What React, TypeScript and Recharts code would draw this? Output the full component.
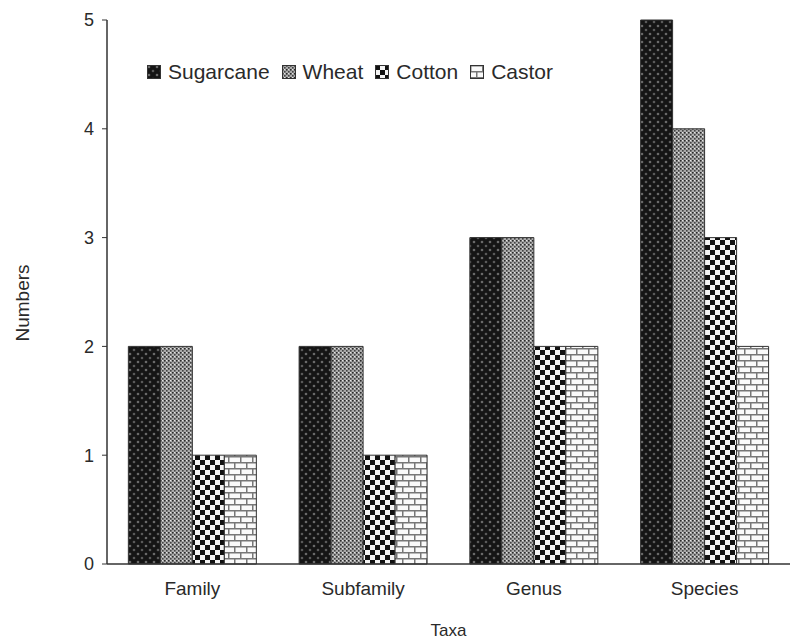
import { BarChart, Bar, XAxis, YAxis, Legend } from 'recharts'

const taxa = ['Family', 'Subfamily', 'Genus', 'Species']
const sugarcane = [2, 2, 3, 5]
const wheat = [2, 2, 3, 4]
const cotton = [1, 1, 2, 3]
const castor = [1, 1, 2, 2]
const yTicks = [0, 1, 2, 3, 4, 5]

const series = [
  { key: 'Sugarcane', fill: 'url(#pat-sugarcane)' },
  { key: 'Wheat', fill: 'url(#pat-wheat)' },
  { key: 'Cotton', fill: 'url(#pat-cotton)' },
  { key: 'Castor', fill: 'url(#pat-castor)' },
]

const data = taxa.map((t, i) => ({
  taxa: t,
  Sugarcane: sugarcane[i],
  Wheat: wheat[i],
  Cotton: cotton[i],
  Castor: castor[i],
}))

const font = 'Arial, "Liberation Sans", sans-serif'
const textColor = '#2a2a2a'

function Patterns() {
  return (
    <svg width={0} height={0} style={{ position: 'absolute' }}>
      <defs>
        <pattern id="pat-sugarcane" width={8} height={8} patternUnits="userSpaceOnUse">
          <rect width={8} height={8} fill="#151515" />
          <circle cx={2} cy={2} r={1.3} fill="#6a6a6a" />
          <circle cx={6} cy={6} r={1.3} fill="#5a5a5a" />
        </pattern>
        <pattern id="pat-wheat" width={4} height={4} patternUnits="userSpaceOnUse">
          <rect width={4} height={4} fill="#aaa" />
          <rect x={0} y={0} width={1.6} height={1.6} fill="#2a2a2a" />
          <rect x={2} y={2} width={1.6} height={1.6} fill="#444" />
          <rect x={2} y={0} width={1} height={1} fill="#e6e6e6" />
        </pattern>
        <pattern id="pat-cotton" width={10} height={10} patternUnits="userSpaceOnUse">
          <rect width={10} height={10} fill="#f4f4f4" />
          <rect x={0} y={0} width={5} height={5} fill="#111" />
          <rect x={5} y={5} width={5} height={5} fill="#111" />
        </pattern>
        <pattern id="pat-castor" width={12} height={12} patternUnits="userSpaceOnUse">
          <rect width={12} height={12} fill="#fafafa" />
          <rect x={0} y={0} width={12} height={1.5} fill="#777" />
          <rect x={0} y={6} width={12} height={1.5} fill="#777" />
          <rect x={0} y={0} width={1.5} height={6} fill="#777" />
          <rect x={6} y={6} width={1.5} height={6} fill="#777" />
        </pattern>
      </defs>
    </svg>
  )
}

function LegendContent() {
  return (
    <div style={{ display: 'flex', alignItems: 'center', fontFamily: font, fontSize: 21, color: textColor }}>
      {series.map((s) => (
        <div key={s.key} style={{ display: 'flex', alignItems: 'center', marginRight: 12 }}>
          <svg width={14} height={14} style={{ marginRight: 7 }}>
            <rect x={0.5} y={0.5} width={13} height={13} fill={s.fill} stroke="#333" />
          </svg>
          <span>{s.key}</span>
        </div>
      ))}
    </div>
  )
}

export default function App() {
  return (
    <div style={{ position: 'absolute', left: 0, top: 0, width: 796, height: 644, background: '#fff' }}>
      <Patterns />
      <BarChart
        width={796}
        height={644}
        data={data}
        margin={{ top: 20, right: 6, bottom: 0, left: 0 }}
        barCategoryGap="12.5%"
        barGap={0}
      >
        <XAxis
          dataKey="taxa"
          height={80}
          tickLine={false}
          axisLine={{ stroke: '#333', strokeWidth: 1.5 }}
          tick={{ fill: textColor, fontSize: 19, fontFamily: font }}
          tickMargin={12}
          label={{ value: 'Taxa', position: 'center', dy: 26, fill: textColor, fontSize: 17, fontFamily: font }}
        />
        <YAxis
          width={107}
          domain={[0, 5]}
          ticks={yTicks}
          interval={0}
          tickSize={5}
          tickMargin={8}
          tickLine={{ stroke: '#333' }}
          axisLine={{ stroke: '#333', strokeWidth: 1.5 }}
          tick={{ fill: textColor, fontSize: 18, fontFamily: font }}
          label={{ value: 'Numbers', angle: -90, position: 'center', dx: -31, dy: 11, fill: textColor, fontSize: 19, fontFamily: font }}
        />
        <Legend
          layout="horizontal"
          verticalAlign="middle"
          content={<LegendContent />}
          wrapperStyle={{ position: 'absolute', top: 60, left: 147, width: 'auto' }}
        />
        {series.map((s) => (
          <Bar key={s.key} dataKey={s.key} fill={s.fill} stroke="#333" strokeWidth={1} isAnimationActive={false} />
        ))}
      </BarChart>
    </div>
  )
}
